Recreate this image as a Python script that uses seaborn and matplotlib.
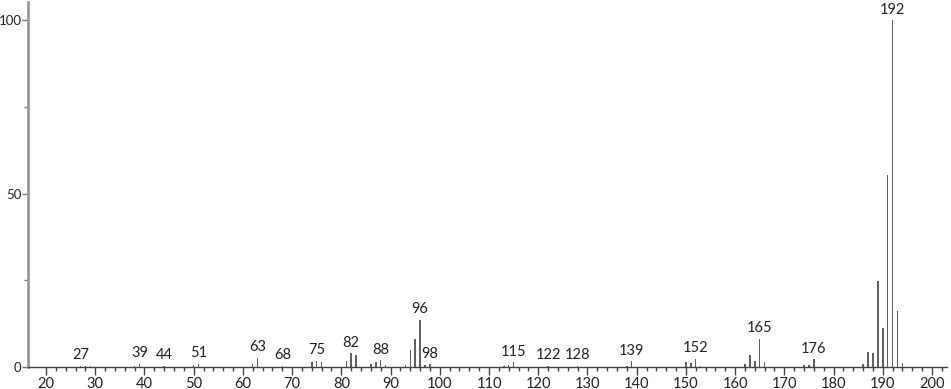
import matplotlib
matplotlib.use("Agg")
import matplotlib.pyplot as plt
import seaborn as sns
import pandas as pd

# m/z values and relative intensities (%)
mz = [27, 28, 29, 38, 39, 44, 50, 51, 62, 63, 68, 74, 75, 76, 81, 82, 83,
      86, 87, 88, 89, 93, 94, 95, 96, 97, 98, 113, 114, 115, 122, 128,
      138, 139, 150, 151, 152, 153, 162, 163, 164, 165, 166, 174, 175, 176,
      186, 187, 188, 189, 190, 191, 192, 193, 194]
intensity = [0.3, 0.3, 0.3, 0.4, 0.9, 0.3, 0.5, 1.0, 1.0, 2.7, 0.3, 1.3, 1.8, 1.3, 1.8, 4.0, 3.5,
             1.0, 1.4, 2.0, 0.7, 0.7, 5.0, 8.2, 13.6, 0.5, 0.8, 0.4, 0.5, 1.4, 0.3, 0.3,
             0.4, 1.7, 1.4, 1.2, 2.4, 0.4, 1.0, 3.4, 1.8, 8.1, 1.4, 0.5, 0.5, 2.2,
             1.0, 4.2, 4.0, 24.8, 11.2, 55.4, 100.0, 16.0, 1.1]
labelled = [27, 39, 44, 51, 63, 68, 75, 82, 88, 96, 98, 115, 122, 128, 139, 152, 165, 176, 192]
x_ticks = list(range(20, 201, 10))
y_ticks = [0, 50, 100]

df = pd.DataFrame({"mz": mz, "intensity": intensity})

sns.set_style("white")
plt.rcParams["font.family"] = ["Lato", "DejaVu Sans"]

fig = plt.figure(figsize=(9.51, 3.89), dpi=100)
ax = fig.add_axes([28 / 951, 22 / 389, 919 / 951, 365 / 389])

sns.barplot(data=df, x="mz", y="intensity", native_scale=True, width=0.3,
            color="#606060", saturation=1, linewidth=0, ax=ax)

lookup = dict(zip(mz, intensity))
for m in labelled:
    ax.annotate(str(m), (m, lookup[m]), xytext=(0, 2.5), textcoords="offset points",
                ha="center", va="bottom", fontsize=10.5, color="#222222")

ax.set_xlim(16.34, 203.05)
ax.set_ylim(0, 105.2)
ax.set_xticks(x_ticks)
ax.set_xticklabels([str(t) for t in x_ticks])
ax.set_xticks(list(range(22, 203, 2)), minor=True)
ax.set_yticks(y_ticks)
ax.set_yticklabels([str(t) for t in y_ticks])
ax.set_yticks([25, 75], minor=True)
ax.set_xlabel("")
ax.set_ylabel("")

for s in ["top", "right"]:
    ax.spines[s].set_visible(False)
ax.spines["left"].set_color("#999999")
ax.spines["left"].set_linewidth(2)
ax.spines["bottom"].set_color("#444444")
ax.spines["bottom"].set_linewidth(1)

ax.tick_params(axis="x", which="major", direction="out", length=6, width=1,
               color="#444444", labelsize=10.5, labelcolor="#222222", pad=1, bottom=True)
ax.tick_params(axis="x", which="minor", direction="out", length=3, width=1,
               color="#444444", bottom=True)
ax.tick_params(axis="y", which="major", direction="out", length=4, width=1,
               color="#777777", labelsize=9.5, labelcolor="#222222", pad=0.5, left=True)
ax.tick_params(axis="y", which="minor", direction="out", length=3, width=1,
               color="#777777", left=True)

fig.savefig("out.png", dpi=100)
